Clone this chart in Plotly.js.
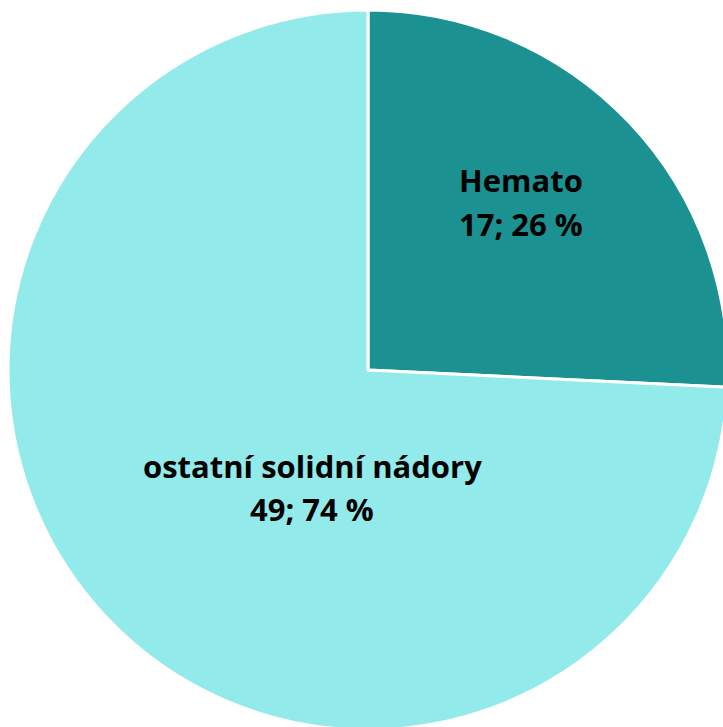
<!DOCTYPE html>
<html>
<head>
<meta charset="utf-8">
<script src="https://cdn.plot.ly/plotly-3.0.1.min.js"></script>
<style>
html,body{margin:0;padding:0;overflow:hidden;background:#fff;width:723px;height:727px;}
#chart{width:740px;height:745px;}
</style>
</head>
<body>
<div id="chart"></div>
<script>
const labels = ["Hemato", "ostatní solidní nádory"];
const values = [17, 49];
const colors = ["#1b9191", "#93eaea"];
// label anchor positions (pixels) for each line of the text
const labelPos = [
  {x: 521, y1: 180, y2: 224},
  {x: 312, y1: 466, y2: 509}
];

const W = 740, H = 745;
const cx = 368, cy = 370, r = 360;
const total = values.reduce((a, b) => a + b, 0);
const pct = values.map(v => Math.round(v / total * 100));

const font = {family: "'Open Sans', sans-serif", size: 31, color: "#000000"};
const annotations = [];
labels.forEach((lab, i) => {
  const p = labelPos[i];
  annotations.push({x: p.x / W, y: (H - p.y1) / H, xref: "paper", yref: "paper",
    text: "<b>" + lab + "</b>", showarrow: false, xanchor: "center", yanchor: "middle", font: font});
  annotations.push({x: p.x / W, y: (H - p.y2) / H, xref: "paper", yref: "paper",
    text: "<b>" + values[i] + "; " + pct[i] + " %</b>", showarrow: false, xanchor: "center", yanchor: "middle", font: font});
});

const data = [{
  type: "pie",
  labels: labels,
  values: values,
  sort: false,
  direction: "clockwise",
  rotation: 0,
  textinfo: "none",
  hoverinfo: "label+value+percent",
  marker: {colors: colors, line: {color: "#ffffff", width: 3}},
  domain: {x: [(cx - r) / W, (cx + r) / W], y: [(H - cy - r) / H, (H - cy + r) / H]},
  showlegend: false
}];

const layout = {
  width: W, height: H,
  margin: {l: 0, r: 0, t: 0, b: 0},
  paper_bgcolor: "#ffffff",
  showlegend: false,
  annotations: annotations
};

Plotly.newPlot("chart", data, layout, {displayModeBar: false, staticPlot: true});
</script>
</body>
</html>
